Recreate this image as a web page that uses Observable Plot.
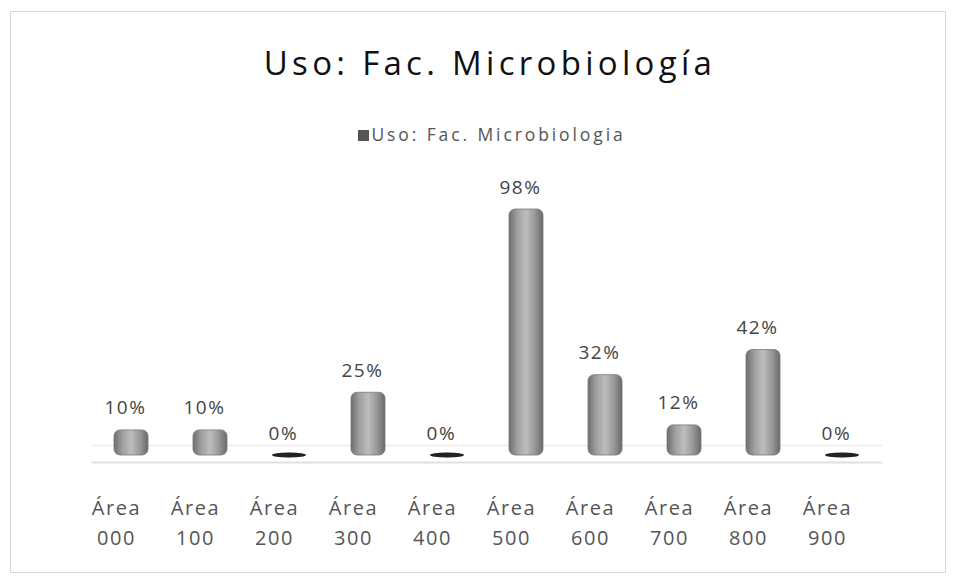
<!DOCTYPE html>
<html>
<head>
<meta charset="utf-8">
<script src="https://cdn.jsdelivr.net/npm/d3@7"></script>
<script src="https://cdn.jsdelivr.net/npm/@observablehq/plot@0.6"></script>
<style>
  html, body { margin: 0; padding: 0; background: #fff; }
  #frame { position: absolute; left: 10px; top: 11px; width: 936px; height: 562px; border: 1px solid #d6d6d6; box-sizing: border-box; }
  #title { position: absolute; left: 0; width: 980px; top: 40px; text-align: center; font-family: "Open Sans", sans-serif; font-size: 33px; letter-spacing: 4.3px; color: #111; }
  #legend { position: absolute; left: 0; width: 984px; top: 122px; text-align: center; font-family: "Open Sans", sans-serif; font-size: 17.5px; letter-spacing: 2.9px; color: #555; }
  #legend .sw { display: inline-block; width: 11px; height: 11px; background: #555; margin-right: 2px; vertical-align: 0px; }
  #chart { position: absolute; left: 0; top: 160px; }
</style>
</head>
<body>
<div id="frame"></div>
<div id="title">Uso: Fac. Microbiología</div>
<div id="legend"><span class="sw"></span>Uso: Fac. Microbiologia</div>
<div id="chart"></div>
<script>
const categories = ["000", "100", "200", "300", "400", "500", "600", "700", "800", "900"];
const values = [10, 10, 0, 25, 0, 98, 32, 12, 42, 0];
const seriesName = "Uso: Fac. Microbiologia";

const data = categories.map((c, i) => ({cat: c, value: values[i]}));
const nonZero = data.filter(d => d.value > 0);
const zeros = data.filter(d => d.value === 0);

const defs = () => {
  const g = d3.create("svg:defs");
  const lg = g.append("linearGradient").attr("id", "cyl").attr("x1", "0").attr("x2", "1").attr("y1", "0").attr("y2", "0");
  [[0, "#6e6e6e"], [0.25, "#a0a0a0"], [0.5, "#bdbdbd"], [0.75, "#9a9a9a"], [1, "#6a6a6a"]]
    .forEach(([o, c]) => lg.append("stop").attr("offset", o).attr("stop-color", c));
  return g.node();
};

const chart = Plot.plot({
  width: 956,
  height: 410,
  marginLeft: 91.5,
  marginRight: 74,
  marginTop: 44,
  marginBottom: 115,
  style: {fontFamily: "'Open Sans', sans-serif", background: "transparent", letterSpacing: "1.6px"},
  x: {domain: categories, paddingInner: 0.57, paddingOuter: 0.285, label: null},
  y: {domain: [0, 100], label: null, axis: null},
  marks: [
    defs,
    Plot.ruleY([0], {stroke: "#e0e0e0", strokeWidth: 2, dy: 7}),
    Plot.ruleY([0], {stroke: "#ececec", strokeWidth: 1.5, dy: -10}),
    Plot.barY(nonZero, {x: "cat", y: "value", fill: "url(#cyl)", stroke: "#777", strokeWidth: 0.8, rx: 6}),
    Plot.barY(zeros, {x: "cat", y1: -1, y2: 1, fill: "#222", rx: 16, ry: 3}),
    Plot.text(data, {x: "cat", y: "value", text: d => d.value + "%", dx: -6, dy: -22, fontSize: 19, fill: "#444"}),
    Plot.axisX({tickSize: 0, tickPadding: 38, dx: -15, fontSize: 20, lineHeight: 1.5, fill: "#555",
      tickFormat: d => "Área\n" + d, label: null})
  ]
});
document.getElementById("chart").appendChild(chart);
</script>
</body>
</html>
